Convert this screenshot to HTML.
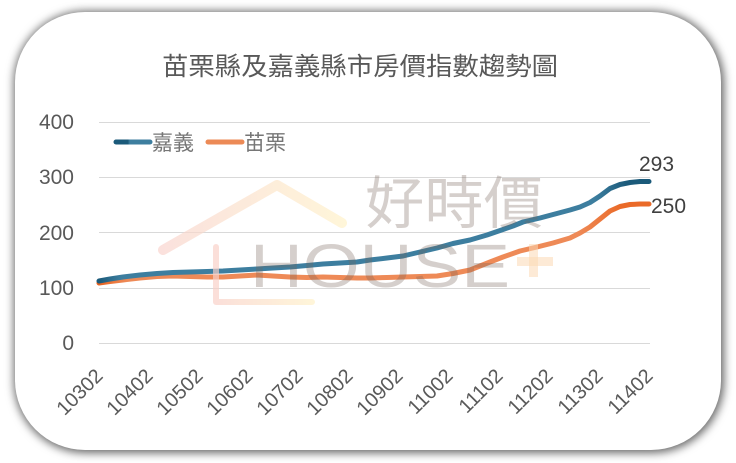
<!DOCTYPE html>
<html>
<head>
<meta charset="utf-8">
<style>
  html,body{margin:0;padding:0;background:#fff;}
  body{width:736px;height:463px;position:relative;overflow:hidden;}
  .card{position:absolute;left:15px;top:12px;width:706px;height:438px;background:#fff;border-radius:70px;box-shadow:1px 1px 9px 2px rgba(0,0,0,0.6);}
  svg{position:absolute;left:0;top:0;}
  text{font-family:"Liberation Sans","Noto Sans CJK TC",sans-serif;}
</style>
</head>
<body>
<div class="card"></div>
<svg width="736" height="463" viewBox="0 0 736 463" xmlns="http://www.w3.org/2000/svg">
  <defs>
    <linearGradient id="tealG" gradientUnits="userSpaceOnUse" x1="99" y1="0" x2="649" y2="0">
      <stop offset="0" stop-color="#1b5a7a"/>
      <stop offset="0.04" stop-color="#3d7e9f"/>
      <stop offset="0.9" stop-color="#3d7e9f"/>
      <stop offset="0.96" stop-color="#1b5a7a"/>
      <stop offset="1" stop-color="#1b5a7a"/>
    </linearGradient>
    <linearGradient id="orgG" gradientUnits="userSpaceOnUse" x1="99" y1="0" x2="649" y2="0">
      <stop offset="0" stop-color="#e8621f"/>
      <stop offset="0.05" stop-color="#ee8a57"/>
      <stop offset="0.87" stop-color="#ee8a57"/>
      <stop offset="0.95" stop-color="#ea6a28"/>
      <stop offset="1" stop-color="#ea6a28"/>
    </linearGradient>
    <linearGradient id="legT" gradientUnits="userSpaceOnUse" x1="116" y1="0" x2="150" y2="0">
      <stop offset="0" stop-color="#1b5a7a"/>
      <stop offset="0.35" stop-color="#1b5a7a"/>
      <stop offset="0.4" stop-color="#3d7e9f"/>
      <stop offset="1" stop-color="#3d7e9f"/>
    </linearGradient>
    <linearGradient id="roofG" gradientUnits="userSpaceOnUse" x1="160" y1="0" x2="345" y2="0">
      <stop offset="0" stop-color="#f9d3cd"/>
      <stop offset="1" stop-color="#fff1c8"/>
    </linearGradient>
    <linearGradient id="lG" gradientUnits="userSpaceOnUse" x1="212" y1="0" x2="315" y2="0">
      <stop offset="0" stop-color="#f9cfc8"/>
      <stop offset="1" stop-color="#fff1c8"/>
    </linearGradient>
  </defs>

  <!-- title -->
  <text x="162" y="75" font-size="25" fill="#595959" textLength="396" lengthAdjust="spacingAndGlyphs">苗栗縣及嘉義縣市房價指數趨勢圖</text>

  <!-- gridlines -->
  <g stroke="#d9d9d9" stroke-width="1">
    <line x1="99" y1="122.5" x2="650" y2="122.5"/>
    <line x1="99" y1="177.5" x2="650" y2="177.5"/>
    <line x1="99" y1="232.5" x2="650" y2="232.5"/>
    <line x1="99" y1="288.5" x2="650" y2="288.5"/>
    <line x1="99" y1="343.5" x2="650" y2="343.5"/>
  </g>

  <!-- y labels -->
  <g font-size="21" fill="#595959" text-anchor="end">
    <text x="74" y="129">400</text>
    <text x="74" y="184">300</text>
    <text x="74" y="240">200</text>
    <text x="74" y="295">100</text>
    <text x="74" y="350">0</text>
  </g>

  <!-- x labels -->
  <g font-size="20" fill="#595959" text-anchor="end">
    <text transform="translate(104,377) rotate(-45)">10302</text>
    <text transform="translate(154,377) rotate(-45)">10402</text>
    <text transform="translate(204,377) rotate(-45)">10502</text>
    <text transform="translate(254,377) rotate(-45)">10602</text>
    <text transform="translate(304,377) rotate(-45)">10702</text>
    <text transform="translate(354,377) rotate(-45)">10802</text>
    <text transform="translate(404,377) rotate(-45)">10902</text>
    <text transform="translate(454,377) rotate(-45)">11002</text>
    <text transform="translate(504,377) rotate(-45)">11102</text>
    <text transform="translate(554,377) rotate(-45)">11202</text>
    <text transform="translate(604,377) rotate(-45)">11302</text>
    <text transform="translate(654,377) rotate(-45)">11402</text>
  </g>

  <!-- legend -->
  <line x1="116" y1="142" x2="150" y2="142" stroke="url(#legT)" stroke-width="5" stroke-linecap="round"/>
  <text x="152" y="150" font-size="21" fill="#767676">嘉義</text>
  <line x1="208" y1="142" x2="242" y2="142" stroke="#ec8a56" stroke-width="5" stroke-linecap="round"/>
  <text x="244" y="150" font-size="21" fill="#767676">苗栗</text>

  <!-- series -->
  <polyline fill="none" stroke="url(#orgG)" stroke-width="5" stroke-linecap="round" stroke-linejoin="round"
    points="99,283 110,281.5 123,280 140,278 157,276.5 173,276 190,276.5 207,277 223,277 240,276 257,275 273,276 290,277 307,277.5 323,277 340,277.5 357,278 370,278 387,277.5 403,277 420,276.5 437,276 453,273.5 470,270 480,266 490,262 503,257 520,251 537,247 553,243 570,238 580,233 590,227 600,219 610,211 620,206.5 630,204.5 640,204 649,204"/>
  <polyline fill="none" stroke="url(#tealG)" stroke-width="5" stroke-linecap="round" stroke-linejoin="round"
    points="99,281 110,279 123,277 140,275 157,273.5 173,272.5 190,272 207,271.5 223,271 240,270 257,269 273,268 290,267 307,265.5 323,264 340,263 357,262 370,260 387,258 403,256 420,252 437,248 453,243.5 470,240 487,235 503,229.5 513,226 523,222 540,218 555,214 570,210 580,207 590,202.5 600,196 610,188.5 620,184.5 630,182.5 640,181.5 649,181.5"/>

  <!-- watermark -->
  <g opacity="0.85">
    <polyline points="163,250 277,185 342,223" fill="none" stroke="url(#roofG)" stroke-width="10" stroke-linecap="round" stroke-linejoin="round" opacity="0.8"/>
    <polyline points="216,247 216,302 312,302" fill="none" stroke="url(#lG)" stroke-width="6" stroke-linecap="round" stroke-linejoin="round" opacity="0.8"/>
  </g>
  <text x="250" y="287" font-size="61" fill="rgb(120,100,90)" opacity="0.3" textLength="260" lengthAdjust="spacingAndGlyphs">HOUSE</text>
  <rect x="529" y="244" width="9" height="33" fill="#fbd9b5" opacity="0.55"/>
  <rect x="517" y="257" width="36" height="9" fill="#fbd9b5" opacity="0.55"/>
  <text x="365" y="223" font-size="57" fill="rgb(120,100,90)" opacity="0.3" textLength="178" lengthAdjust="spacingAndGlyphs">好時價</text>

  <!-- data labels -->
  <text x="639" y="171" font-size="21" fill="#404040">293</text>
  <text x="651" y="213" font-size="21" fill="#404040">250</text>
</svg>
</body>
</html>
